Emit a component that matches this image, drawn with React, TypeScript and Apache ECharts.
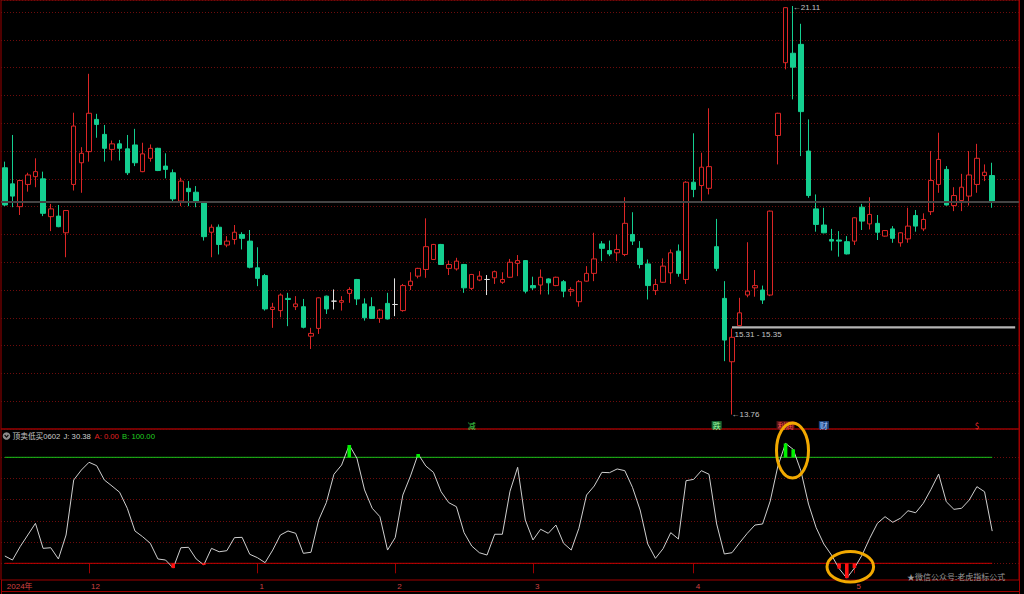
import React, { useEffect, useRef } from "react";
import * as echarts from "echarts";

// ---------- data ----------
// [open, close, low, high] per trading day (2024-11 .. 2025-05)
const candles: number[][] = [
  [18.20, 17.53, 17.51, 18.31], [17.91, 17.69, 17.49, 18.79], [17.50, 17.97, 17.35, 17.98], [17.90, 18.07, 17.77, 18.11],
  [18.04, 18.13, 17.85, 18.37], [18.00, 17.38, 17.33, 18.13], [17.32, 17.46, 17.06, 17.55], [17.33, 17.14, 17.13, 17.53],
  [17.03, 17.43, 16.59, 17.44], [17.90, 18.95, 17.79, 19.19], [18.29, 18.46, 17.75, 18.57], [18.49, 19.18, 18.31, 19.89],
  [19.07, 18.98, 18.74, 19.17], [18.80, 18.55, 18.31, 18.97], [18.53, 18.63, 18.33, 18.69], [18.63, 18.55, 18.33, 18.70],
  [18.54, 18.11, 18.07, 18.79], [18.61, 18.29, 18.23, 18.90], [18.13, 18.45, 18.12, 18.65], [18.37, 18.55, 18.31, 18.62],
  [18.55, 18.15, 18.14, 18.56], [18.23, 18.17, 18.01, 18.46], [18.11, 17.64, 17.57, 18.17], [17.60, 17.96, 17.51, 18.02],
  [17.83, 17.77, 17.51, 17.96], [17.76, 17.58, 17.49, 17.87], [17.58, 16.96, 16.89, 17.59], [17.04, 17.13, 16.59, 17.18],
  [17.13, 16.82, 16.64, 17.18], [16.81, 16.88, 16.77, 16.97], [16.91, 17.04, 16.82, 17.17], [17.00, 16.93, 16.73, 17.04],
  [16.88, 16.41, 16.39, 17.08], [16.40, 16.21, 16.07, 16.77], [16.26, 15.66, 15.63, 16.29], [15.65, 15.69, 15.32, 15.77],
  [15.63, 15.91, 15.51, 15.94], [15.85, 15.83, 15.35, 15.95], [15.70, 15.75, 15.64, 15.89], [15.70, 15.33, 15.31, 15.84],
  [15.17, 15.22, 14.94, 15.32], [15.31, 15.86, 15.21, 15.87], [15.89, 15.66, 15.57, 15.90], [15.80, 15.80, 15.65, 16.01],
  [15.78, 15.81, 15.63, 15.89], [15.94, 16.01, 15.77, 16.05], [16.19, 15.84, 15.73, 16.20], [15.75, 15.50, 15.45, 15.85],
  [15.70, 15.49, 15.48, 15.87], [15.49, 15.64, 15.41, 15.66], [15.76, 15.48, 15.47, 15.95], [15.74, 15.74, 15.53, 16.21],
  [15.63, 16.08, 15.61, 16.11], [16.08, 16.16, 16.00, 16.32], [16.25, 16.39, 16.21, 16.40], [16.37, 16.78, 16.22, 17.29],
  [16.55, 16.82, 16.54, 16.83], [16.82, 16.46, 16.45, 16.83], [16.39, 16.46, 16.27, 16.53], [16.38, 16.52, 16.35, 16.58],
  [16.46, 16.04, 15.95, 16.47], [16.03, 16.28, 16.00, 16.29], [16.18, 16.25, 16.16, 16.34], [16.19, 16.19, 15.91, 16.27],
  [16.22, 16.33, 16.11, 16.35], [16.14, 16.19, 16.11, 16.32], [16.23, 16.50, 16.22, 16.56], [16.48, 16.53, 16.25, 16.63],
  [16.53, 15.98, 15.94, 16.54], [16.08, 16.04, 16.00, 16.24], [16.09, 16.23, 15.92, 16.37], [16.20, 16.13, 15.92, 16.21],
  [16.08, 16.23, 16.07, 16.24], [16.15, 15.98, 15.87, 16.18], [15.98, 16.01, 15.89, 16.05], [15.79, 16.15, 15.70, 16.18],
  [16.16, 16.30, 16.15, 16.43], [16.30, 16.56, 16.16, 17.03], [16.83, 16.75, 16.52, 16.88], [16.71, 16.65, 16.61, 16.89],
  [16.67, 16.73, 16.52, 17.00], [16.64, 17.20, 16.61, 17.67], [17.00, 16.88, 16.81, 17.40], [16.75, 16.46, 16.39, 16.88],
  [16.47, 16.08, 15.83, 16.55], [15.99, 16.10, 15.91, 16.20], [16.14, 16.43, 16.13, 16.57], [16.31, 16.67, 16.11, 16.73],
  [16.70, 16.30, 16.24, 16.82], [16.19, 17.94, 16.11, 17.96], [17.94, 17.81, 17.67, 18.82], [17.88, 18.21, 17.58, 18.47],
  [17.83, 18.22, 17.72, 19.27], [16.78, 16.39, 16.34, 17.28], [15.85, 15.10, 14.72, 16.16], [14.71, 15.15, 13.76, 15.31],
  [15.36, 15.59, 15.35, 15.86], [15.91, 15.98, 15.87, 16.86], [16.04, 16.08, 15.88, 16.36], [16.00, 15.82, 15.75, 16.08],
  [15.91, 17.42, 15.89, 17.43], [18.78, 19.18, 18.26, 19.19], [20.09, 21.08, 19.97, 21.09], [20.26, 20.01, 19.43, 21.11],
  [20.42, 19.21, 18.41, 20.79], [18.50, 17.70, 17.66, 19.07], [17.46, 17.18, 17.05, 17.72], [17.17, 17.03, 17.02, 17.48],
  [16.91, 16.88, 16.71, 17.10], [16.90, 16.88, 16.60, 17.06], [16.87, 16.65, 16.64, 16.97], [16.88, 17.30, 16.81, 17.31],
  [17.49, 17.24, 17.08, 17.55], [17.19, 17.36, 17.09, 17.67], [17.20, 17.04, 16.90, 17.35], [16.97, 17.07, 16.96, 17.08],
  [17.10, 16.93, 16.85, 17.15], [16.85, 17.03, 16.78, 17.04], [16.92, 17.15, 16.85, 17.48], [17.34, 17.15, 17.05, 17.44],
  [17.10, 17.27, 17.06, 17.38], [17.41, 17.97, 17.35, 18.50], [17.90, 18.35, 17.75, 18.83], [18.17, 17.53, 17.52, 18.23],
  [17.52, 17.70, 17.42, 17.85], [17.61, 17.85, 17.42, 18.09], [17.69, 18.07, 17.52, 18.50], [17.90, 18.37, 17.75, 18.63],
  [18.06, 18.12, 17.96, 18.26], [18.06, 17.59, 17.48, 18.29],
];

// indicator "顶卖低买0602" J line
const jValues: number[] = [
  6.9, 3.1, 15.7, 26.7, 37.7, 14.1, 14.7, 4.1, 26.7, 78.6,
  88.0, 95.3, 92.1, 78.6, 72.9, 67.0, 51.9, 30.5, 25.1, 18.9,
  4.1, 3.1, -4.5, 14.7, 15.1, 4.1, -1.5, 14.1, 10.9, 11.9,
  24.2, 24.5, 8.5, 5.3, 0.6, 12.5, 26.7, 30.5, 28.3, 9.4,
  10.4, 40.8, 57.2, 84.0, 92.7, 111.6, 99.1, 69.2, 51.9, 44.0,
  12.5, 24.2, 64.4, 82.4, 103.1, 91.8, 85.8, 67.5, 57.2, 53.4,
  28.9, 16.3, 10.0, 7.8, 27.4, 27.4, 68.0, 90.6, 40.8, 22.0,
  32.1, 28.3, 36.1, 18.9, 12.5, 33.0, 64.4, 72.9, 85.8, 85.5,
  89.0, 87.4, 71.7, 50.3, 18.2, 4.7, 13.8, 28.9, 22.9, 77.9,
  79.2, 87.4, 84.0, 37.1, 8.8, 10.0, 19.4, 28.3, 36.1, 37.1,
  58.8, 91.8, 113.1, 107.5, 87.4, 55.9, 33.6, 18.2, 7.8, -5.0,
  -14.0, -4.5, 7.8, 23.6, 37.7, 44.0, 38.7, 42.5, 49.6, 47.7,
  56.6, 69.8, 84.2, 58.1, 50.9, 51.9, 59.7, 72.3, 67.5, 30.38,
];
const levelA = 0;
const levelB = 100;
const jGridLevels = [0, 20, 40, 60, 80, 100];

const EXTRA_SLOTS = 3;
const categories: string[] = [...candles.map((_, i) => String(i)), ...Array(EXTRA_SLOTS).fill("")].map((v, i) => (v === "" ? "e" + i : v));

const monthTicks = [
  { i: 0, label: "2024年" },
  { i: 11, label: "12" },
  { i: 33, label: "1" },
  { i: 51, label: "2" },
  { i: 69, label: "3" },
  { i: 90, label: "4" },
  { i: 111, label: "5" },
];

const gap = { from: 95, low: 15.31, high: 15.35 };

const eventMarks = [
  { i: 61, text: "减", color: "#3fd24a", bg: "transparent" },
  { i: 93, text: "跌", color: "#9af09a", bg: "#1c6b34" },
  { i: 102, text: "利润", color: "#ff5050", bg: "#5a1414" },
  { i: 107, text: "财", color: "#a8ccff", bg: "#1e447e" },
  { i: 127, text: "$", color: "#ff3030", bg: "transparent" },
];

const indicatorName = "顶卖低买0602";
const watermark = "★微信公众号:老虎指标公式";

// ---------- styles ----------
const FONT = "'Liberation Sans','Noto Sans CJK SC',sans-serif";
const RED_LINE = "#9e0000";
const DOT_RED = "#6e0c0c";
const UP = "#dc2626";
const DOWN = "#14cf90";
const FLAT = "#e0e0e0";

export default function App() {
  const ref = useRef<HTMLDivElement>(null);

  useEffect(() => {
    document.body.style.margin = "0";
    document.body.style.background = "#000";
    const chart = echarts.init(ref.current as HTMLDivElement, null, { renderer: "svg" });

    const candleData = candles.map(([o, c, l, h]) =>
      o === c
        ? { value: [o, c, l, h], itemStyle: { color: FLAT, color0: FLAT, borderColor: FLAT, borderColor0: FLAT } }
        : [o, c, l, h]
    );
    let hiIdx = 0;
    let loIdx = 0;
    candles.forEach((d, i) => {
      if (d[3] > candles[hiIdx][3]) hiIdx = i;
      if (d[2] < candles[loIdx][2]) loIdx = i;
    });
    const lastClose = candles[candles.length - 1][1];
    const lastIdx = candles.length - 1;
    const tickSet = new Set(monthTicks.map((m) => m.i));
    const labelMap: Record<number, string> = {};
    monthTicks.forEach((m) => (labelMap[m.i] = m.label));

    const eventPrice = 13.57;
    const hdr = { fontSize: 7.7, fontFamily: FONT, verticalAlign: "middle", align: "left" };

    const levelLine = (name: string, level: number, color: string) => ({
      type: "line",
      name,
      xAxisIndex: 1, yAxisIndex: 1,
      data: [[0, level], [lastIdx, level]],
      symbol: "none",
      color,
      lineStyle: { color, width: 1, type: "solid" },
      z: 2,
    });

    const option: any = {
      animation: false,
      backgroundColor: "#000",
      grid: [
        { left: 1, right: 5, top: -1, height: 430, show: true, borderColor: RED_LINE, borderWidth: 1, backgroundColor: "transparent" },
        { left: 1, right: 5, top: 429, height: 151, show: true, borderColor: RED_LINE, borderWidth: 1, backgroundColor: "transparent" },
      ],
      xAxis: [
        {
          type: "category", gridIndex: 0, data: categories, boundaryGap: true,
          axisLine: { show: false }, axisTick: { show: false }, axisLabel: { show: false }, splitLine: { show: false },
        },
        {
          type: "category", gridIndex: 1, data: categories, boundaryGap: true,
          axisLine: { show: false },
          axisTick: {
            show: true, alignWithLabel: true, length: 10,
            interval: (i: number) => tickSet.has(i) && i !== 0,
            lineStyle: { color: RED_LINE, width: 1 },
          },
          axisLabel: {
            show: true,
            interval: (i: number) => tickSet.has(i),
            formatter: (_v: string, i: number) => labelMap[i] || "",
            color: "#d04040", fontSize: 8, fontFamily: FONT, align: "left", margin: 2, padding: [0, 0, 0, 2],
          },
          splitLine: { show: false },
        },
      ],
      yAxis: [
        {
          type: "value", gridIndex: 0, position: "right", min: 13.5, max: 21.218, interval: 0.5,
          axisLine: { show: true, lineStyle: { color: RED_LINE } },
          axisTick: { show: false }, axisLabel: { show: false },
          splitLine: { show: true, lineStyle: { color: DOT_RED, type: [1, 2], width: 1 } },
        },
        {
          type: "value", gridIndex: 1, position: "right", min: -15.75, max: 126.7,
          axisLine: { show: true, lineStyle: { color: RED_LINE } },
          axisTick: { show: false }, axisLabel: { show: false }, splitLine: { show: false },
        },
      ],
      series: [
        {
          type: "candlestick",
          xAxisIndex: 0, yAxisIndex: 0,
          data: candleData,
          barWidth: 5,
          itemStyle: { color: "#000", color0: DOWN, borderColor: UP, borderColor0: DOWN, borderWidth: 1 },
          markLine: {
            silent: true, symbol: ["none", "none"], animation: false,
            label: { show: false },
            lineStyle: { color: "#444444", width: 2, type: "solid" },
            data: [{ yAxis: lastClose }],
          },
          markArea: {
            silent: true,
            itemStyle: { color: "#b4b4b4" },
            label: { show: false },
            data: [[{ coord: [gap.from, gap.high] }, { coord: [categories.length - 1, gap.low] }]],
          },
          markPoint: {
            silent: true,
            symbol: "circle",
            symbolSize: 1,
            itemStyle: { color: "rgba(0,0,0,0)" },
            label: { show: true, formatter: "{b}", color: "#c4c4c4", fontSize: 8, fontFamily: FONT },
            data: [
              { coord: [hiIdx, candles[hiIdx][3]], name: "←" + candles[hiIdx][3].toFixed(2), label: { position: [0, -2] } },
              { coord: [loIdx, candles[loIdx][2]], name: "←" + candles[loIdx][2].toFixed(2), label: { position: [0, -4] } },
              { coord: [gap.from, gap.low], name: `${gap.low.toFixed(2)} - ${gap.high.toFixed(2)}`, label: { position: [3, 3] } },
              ...eventMarks.map((e) => ({
                coord: [e.i, eventPrice],
                name: e.text,
                label: {
                  position: "inside", color: e.color, backgroundColor: e.bg, padding: [0, 1],
                  fontSize: 8, fontFamily: "'Noto Sans CJK SC','Liberation Sans',sans-serif",
                },
              })),
            ],
          },
        },
        levelLine("B", levelB, "#18c418"),
        levelLine("A", levelA, "#c80000"),
        {
          type: "line",
          name: "J",
          xAxisIndex: 1, yAxisIndex: 1,
          data: jValues,
          symbol: "none",
          lineStyle: { color: "#cfcfcf", width: 1 },
          z: 3,
          markLine: {
            silent: true, symbol: ["none", "none"],
            label: { show: false },
            lineStyle: { color: DOT_RED, type: [1, 2], width: 1 },
            z: 1,
            data: jGridLevels.map((v) => ({ yAxis: v })),
          },
        },
        {
          type: "custom",
          xAxisIndex: 1, yAxisIndex: 1,
          data: jValues.map((v, i) => [i, v]),
          encode: { x: 0, y: 1 },
          z: 4,
          renderItem: (_p: any, api: any) => {
            const idx = api.value(0);
            const v = api.value(1);
            let base: number;
            let fill: string;
            if (v > levelB) {
              base = levelB;
              fill = "#00f000";
            } else if (v < levelA) {
              base = levelA;
              fill = "#ff1010";
            } else return null;
            const p1 = api.coord([idx, v]);
            const p0 = api.coord([idx, base]);
            const w = 3.6;
            return {
              type: "rect",
              shape: { x: p1[0] - w / 2, y: Math.min(p0[1], p1[1]), width: w, height: Math.abs(p0[1] - p1[1]) },
              style: { fill },
            };
          },
        },
      ],
      graphic: [
        { type: "line", shape: { x1: 1, y1: 591.5, x2: 1019, y2: 591.5 }, style: { stroke: RED_LINE, lineWidth: 1 } },
        { type: "line", shape: { x1: 1.5, y1: 580, x2: 1.5, y2: 594 }, style: { stroke: RED_LINE, lineWidth: 1 } },
        { type: "line", shape: { x1: 1019.5, y1: 580, x2: 1019.5, y2: 594 }, style: { stroke: RED_LINE, lineWidth: 1 } },
        { type: "circle", shape: { cx: 6.5, cy: 436, r: 3.8 }, style: { fill: "#8c8c8c" } },
        { type: "polyline", shape: { points: [[4.6, 435], [6.5, 437.2], [8.4, 435]] }, style: { stroke: "#111", lineWidth: 1.2, fill: "none" } },
        { type: "text", x: 12.5, y: 436, style: { text: indicatorName, fill: "#c8c8c8", ...hdr } },
        { type: "text", x: 63.5, y: 436, style: { text: `J: ${jValues[lastIdx].toFixed(2)}`, fill: "#d0d0d0", ...hdr } },
        { type: "text", x: 94.5, y: 436, style: { text: `A: ${levelA.toFixed(2)}`, fill: "#e02020", ...hdr } },
        { type: "text", x: 122, y: 436, style: { text: `B: ${levelB.toFixed(2)}`, fill: "#20d020", ...hdr } },
        { type: "text", x: 907, y: 576, style: { text: watermark, fill: "#9a9a9a", fontSize: 8, fontFamily: "'Noto Sans CJK SC',sans-serif", verticalAlign: "middle", align: "left" } },
        { type: "ellipse", z: 100, shape: { cx: 792.5, cy: 450.5, rx: 16, ry: 27.5 }, style: { fill: "none", stroke: "#f2a900", lineWidth: 3 } },
        { type: "ellipse", z: 100, shape: { cx: 850.3, cy: 566.7, rx: 23.3, ry: 15.3 }, style: { fill: "none", stroke: "#f2a900", lineWidth: 3 } },
      ],
    };

    chart.setOption(option);
    return () => chart.dispose();
  }, []);

  return (
    <div
      ref={ref}
      style={{ position: "absolute", left: 0, top: 0, width: 1024, height: 594, background: "#000" }}
    />
  );
}
